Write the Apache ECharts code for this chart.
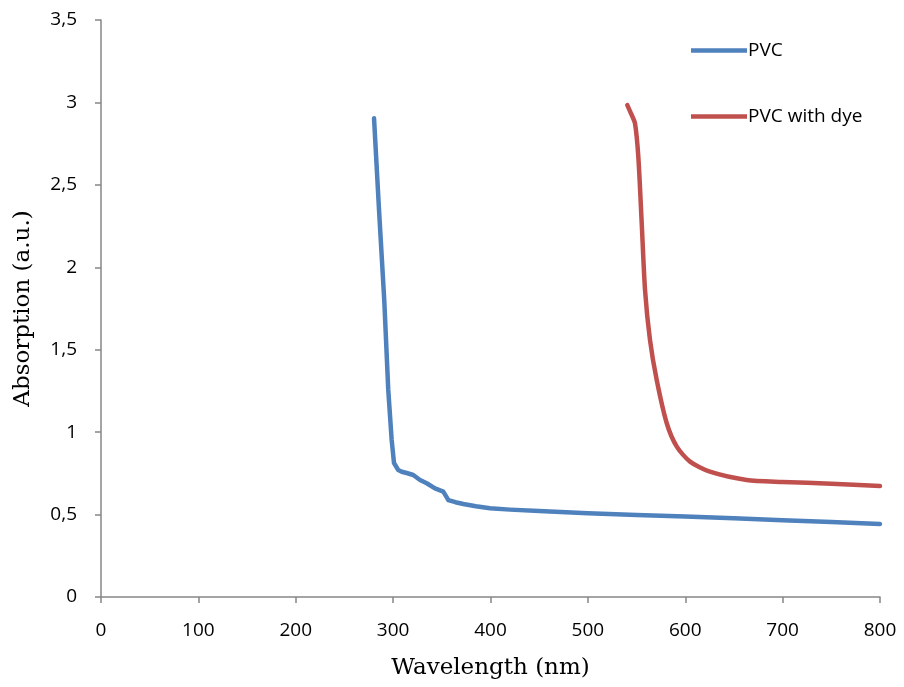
<!DOCTYPE html>
<html><head><meta charset="utf-8">
<script src="https://cdn.jsdelivr.net/npm/echarts@6/dist/echarts.min.js"></script>
<style>html,body{margin:0;padding:0;background:#fff}#c{width:904px;height:687px}</style>
</head><body><div id="c"></div>
<script>
const pvcWavelength = [280.4, 285.5, 290.9, 295.0, 298.5, 300.9, 305.3, 308.8, 313.9, 320.7, 327.6, 334.5, 343.0, 351.5, 354, 356.7, 364, 372.1, 385, 399.5, 420, 450, 500, 550, 600, 650, 700, 750, 800];
const pvcAbs = [2.904, 2.35, 1.80, 1.256, 0.953, 0.813, 0.770, 0.760, 0.752, 0.740, 0.710, 0.690, 0.659, 0.639, 0.615, 0.588, 0.575, 0.564, 0.55, 0.538, 0.53, 0.522, 0.508, 0.498, 0.488, 0.478, 0.466, 0.455, 0.443];
const dyeWavelength = [540.5, 544.5, 548.4, 551.8, 555.3, 558.7, 563.8, 570.7, 581.0, 591.3, 604.9, 625.3, 663.1, 700, 750, 800];
const dyeAbs = [2.984, 2.93, 2.873, 2.671, 2.267, 1.862, 1.559, 1.316, 1.054, 0.912, 0.821, 0.760, 0.710, 0.698, 0.687, 0.673];
const xTicks = {min: 0, max: 800, interval: 100};
const yTicks = {min: 0, max: 3.5, interval: 0.5};

const toPairs = (xs, ys) => xs.map((x, i) => [x, ys[i]]);
const chart = echarts.init(document.getElementById('c'));
const axisCol = '#868686';
const tickFont = {fontFamily: 'Open Sans', fontSize: 19, color: '#000'};
chart.setOption({
  animation: false,
  backgroundColor: '#fff',
  grid: {left: 101, right: 24, top: 20, bottom: 90, containLabel: false, outerBoundsMode: 'none'},
  legend: {
    orient: 'vertical', left: 686, top: 36, itemGap: 47,
    itemWidth: 56, itemHeight: 22,
    textStyle: {fontFamily: 'Open Sans', fontSize: 19, color: '#000', padding: [0, 0, 0, -4]},
    data: [{name: 'PVC', icon: 'path://M0,0 L56,0 L56,4.5 L0,4.5 Z'}, {name: 'PVC with dye', icon: 'path://M0,0 L56,0 L56,4.5 L0,4.5 Z'}]
  },
  xAxis: {
    type: 'value', min: xTicks.min, max: xTicks.max, interval: xTicks.interval,
    name: 'Wavelength (nm)', nameLocation: 'middle', nameGap: 60,
    nameTextStyle: {fontFamily: 'DejaVu Serif', fontSize: 23, color: '#000'},
    axisLine: {lineStyle: {color: axisCol, width: 1.5}},
    axisTick: {show: true, length: 6, lineStyle: {color: axisCol, width: 1.5}},
    axisLabel: Object.assign({margin: 24}, tickFont),
    splitLine: {show: false}
  },
  yAxis: {
    type: 'value', min: yTicks.min, max: yTicks.max, interval: yTicks.interval,
    name: 'Absorption (a.u.)', nameLocation: 'middle', nameGap: 66, nameRotate: 90,
    nameTextStyle: {fontFamily: 'DejaVu Serif', fontSize: 23, color: '#000'},
    axisLine: {show: true, lineStyle: {color: axisCol, width: 1.5}},
    axisTick: {show: true, length: 6, lineStyle: {color: axisCol, width: 1.5}},
    axisLabel: Object.assign({margin: 24, formatter: v => String(v).replace('.', ',')}, tickFont),
    splitLine: {show: false}
  },
  series: [
    {name: 'PVC', type: 'line', data: toPairs(pvcWavelength, pvcAbs), showSymbol: false, smooth: false,
     lineStyle: {color: '#4F81BD', width: 4.5, cap: 'round', join: 'round'}, itemStyle: {color: '#4F81BD'}},
    {name: 'PVC with dye', type: 'line', data: toPairs(dyeWavelength, dyeAbs), showSymbol: false, smooth: 0.25,
     lineStyle: {color: '#C0504D', width: 4.5, cap: 'round', join: 'round'}, itemStyle: {color: '#C0504D'}}
  ]
});
</script></body></html>
